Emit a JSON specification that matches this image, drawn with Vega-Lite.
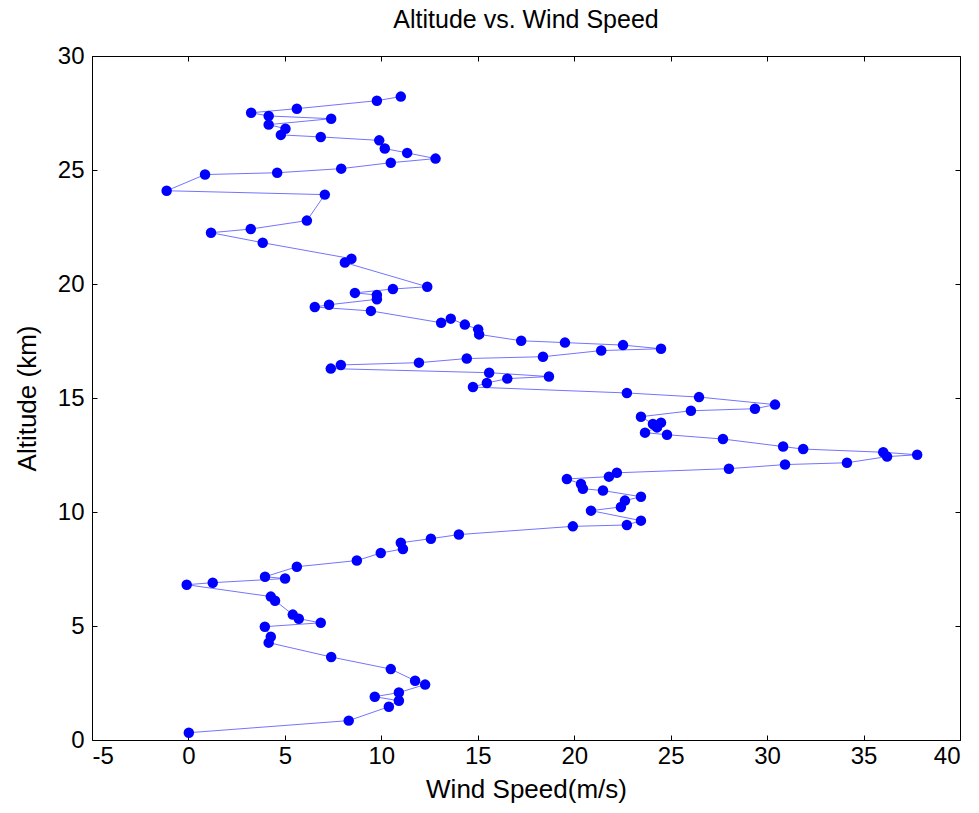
{
  "$schema": "https://vega.github.io/schema/vega-lite/v6.json",
  "width": 868,
  "height": 684,
  "autosize": {"type": "none"},
  "padding": {"left": 92, "top": 56, "right": 19, "bottom": 73},
  "background": "white",
  "title": {
    "text": "Altitude vs. Wind Speed",
    "font": "Liberation Sans",
    "fontSize": 25,
    "fontWeight": "normal",
    "color": "black",
    "anchor": "middle",
    "offset": 11
  },
  "config": {
    "view": {"stroke": null},
    "axis": {
      "grid": false,
      "domainColor": "black",
      "domainWidth": 1,
      "tickColor": "black",
      "tickSize": -5,
      "labelFont": "Liberation Sans",
      "labelFontSize": 24,
      "labelColor": "black",
      "labelExpr": "'' + datum.value",
      "titleFont": "Liberation Sans",
      "titleFontSize": 26,
      "titleFontWeight": "normal",
      "titleColor": "black"
    }
  },
  "data": {
    "values": [
      {"i": 1, "speed": 0.02, "alt": 0.32},
      {"i": 2, "speed": 8.31, "alt": 0.85},
      {"i": 3, "speed": 10.39, "alt": 1.46},
      {"i": 4, "speed": 10.91, "alt": 1.72},
      {"i": 5, "speed": 9.66, "alt": 1.90},
      {"i": 6, "speed": 10.91, "alt": 2.08},
      {"i": 7, "speed": 12.27, "alt": 2.43},
      {"i": 8, "speed": 11.75, "alt": 2.60},
      {"i": 9, "speed": 10.49, "alt": 3.11},
      {"i": 10, "speed": 7.40, "alt": 3.64},
      {"i": 11, "speed": 4.16, "alt": 4.27},
      {"i": 12, "speed": 4.27, "alt": 4.53},
      {"i": 13, "speed": 3.96, "alt": 4.97},
      {"i": 14, "speed": 6.86, "alt": 5.14},
      {"i": 15, "speed": 5.72, "alt": 5.32},
      {"i": 16, "speed": 5.41, "alt": 5.50},
      {"i": 17, "speed": 4.49, "alt": 6.11},
      {"i": 18, "speed": 4.27, "alt": 6.29},
      {"i": 19, "speed": -0.09, "alt": 6.81},
      {"i": 20, "speed": 1.26, "alt": 6.90},
      {"i": 21, "speed": 5.01, "alt": 7.08},
      {"i": 22, "speed": 3.97, "alt": 7.16},
      {"i": 23, "speed": 5.62, "alt": 7.60},
      {"i": 24, "speed": 8.73, "alt": 7.87},
      {"i": 25, "speed": 9.97, "alt": 8.20},
      {"i": 26, "speed": 11.12, "alt": 8.38},
      {"i": 27, "speed": 11.01, "alt": 8.65},
      {"i": 28, "speed": 12.57, "alt": 8.83},
      {"i": 29, "speed": 14.02, "alt": 9.01},
      {"i": 30, "speed": 19.93, "alt": 9.37},
      {"i": 31, "speed": 22.73, "alt": 9.43},
      {"i": 32, "speed": 23.46, "alt": 9.62},
      {"i": 33, "speed": 20.87, "alt": 10.06},
      {"i": 34, "speed": 22.42, "alt": 10.22},
      {"i": 35, "speed": 22.63, "alt": 10.50},
      {"i": 36, "speed": 23.46, "alt": 10.67},
      {"i": 37, "speed": 21.49, "alt": 10.94},
      {"i": 38, "speed": 20.45, "alt": 11.02},
      {"i": 39, "speed": 20.35, "alt": 11.23},
      {"i": 40, "speed": 19.62, "alt": 11.45},
      {"i": 41, "speed": 21.80, "alt": 11.55},
      {"i": 42, "speed": 22.21, "alt": 11.72},
      {"i": 43, "speed": 28.02, "alt": 11.90},
      {"i": 44, "speed": 30.93, "alt": 12.08},
      {"i": 45, "speed": 34.14, "alt": 12.16},
      {"i": 46, "speed": 36.22, "alt": 12.43},
      {"i": 47, "speed": 37.78, "alt": 12.51},
      {"i": 48, "speed": 36.02, "alt": 12.62},
      {"i": 49, "speed": 31.87, "alt": 12.76},
      {"i": 50, "speed": 30.83, "alt": 12.87},
      {"i": 51, "speed": 27.71, "alt": 13.20},
      {"i": 52, "speed": 24.81, "alt": 13.39},
      {"i": 53, "speed": 23.67, "alt": 13.48},
      {"i": 54, "speed": 24.29, "alt": 13.71},
      {"i": 55, "speed": 24.50, "alt": 13.92},
      {"i": 56, "speed": 24.08, "alt": 13.86},
      {"i": 57, "speed": 23.46, "alt": 14.18},
      {"i": 58, "speed": 26.05, "alt": 14.44},
      {"i": 59, "speed": 29.37, "alt": 14.53},
      {"i": 60, "speed": 30.41, "alt": 14.71},
      {"i": 61, "speed": 26.47, "alt": 15.04},
      {"i": 62, "speed": 22.73, "alt": 15.22},
      {"i": 63, "speed": 14.75, "alt": 15.48},
      {"i": 64, "speed": 15.47, "alt": 15.66},
      {"i": 65, "speed": 16.53, "alt": 15.85},
      {"i": 66, "speed": 18.69, "alt": 15.94},
      {"i": 67, "speed": 15.59, "alt": 16.11},
      {"i": 68, "speed": 7.38, "alt": 16.29},
      {"i": 69, "speed": 7.90, "alt": 16.45},
      {"i": 70, "speed": 11.95, "alt": 16.55},
      {"i": 71, "speed": 14.43, "alt": 16.73},
      {"i": 72, "speed": 18.38, "alt": 16.81},
      {"i": 73, "speed": 21.40, "alt": 17.08},
      {"i": 74, "speed": 24.50, "alt": 17.16},
      {"i": 75, "speed": 22.53, "alt": 17.32},
      {"i": 76, "speed": 19.52, "alt": 17.43},
      {"i": 77, "speed": 17.25, "alt": 17.51},
      {"i": 78, "speed": 15.07, "alt": 17.79},
      {"i": 79, "speed": 15.02, "alt": 18.01},
      {"i": 80, "speed": 14.33, "alt": 18.22},
      {"i": 81, "speed": 13.60, "alt": 18.48},
      {"i": 82, "speed": 13.10, "alt": 18.30},
      {"i": 83, "speed": 9.46, "alt": 18.82},
      {"i": 84, "speed": 6.55, "alt": 18.99},
      {"i": 85, "speed": 7.29, "alt": 19.09},
      {"i": 86, "speed": 9.77, "alt": 19.33},
      {"i": 87, "speed": 9.77, "alt": 19.52},
      {"i": 88, "speed": 8.63, "alt": 19.61},
      {"i": 89, "speed": 10.60, "alt": 19.78},
      {"i": 90, "speed": 12.38, "alt": 19.88},
      {"i": 91, "speed": 8.11, "alt": 20.94},
      {"i": 92, "speed": 8.45, "alt": 21.11},
      {"i": 93, "speed": 3.85, "alt": 21.81},
      {"i": 94, "speed": 1.17, "alt": 22.25},
      {"i": 95, "speed": 3.23, "alt": 22.41},
      {"i": 96, "speed": 6.14, "alt": 22.78},
      {"i": 97, "speed": 7.07, "alt": 23.92},
      {"i": 98, "speed": -1.13, "alt": 24.09},
      {"i": 99, "speed": 0.86, "alt": 24.80},
      {"i": 100, "speed": 4.60, "alt": 24.88},
      {"i": 101, "speed": 7.92, "alt": 25.06},
      {"i": 102, "speed": 10.49, "alt": 25.32},
      {"i": 103, "speed": 12.81, "alt": 25.50},
      {"i": 104, "speed": 11.34, "alt": 25.75},
      {"i": 105, "speed": 10.18, "alt": 25.94},
      {"i": 106, "speed": 9.89, "alt": 26.30},
      {"i": 107, "speed": 6.86, "alt": 26.45},
      {"i": 108, "speed": 4.79, "alt": 26.54},
      {"i": 109, "speed": 5.03, "alt": 26.81},
      {"i": 110, "speed": 4.16, "alt": 26.99},
      {"i": 111, "speed": 7.40, "alt": 27.25},
      {"i": 112, "speed": 4.16, "alt": 27.37},
      {"i": 113, "speed": 3.25, "alt": 27.51},
      {"i": 114, "speed": 5.62, "alt": 27.69},
      {"i": 115, "speed": 9.77, "alt": 28.04},
      {"i": 116, "speed": 11.01, "alt": 28.22}
    ]
  },
  "layer": [
    {
      "mark": {"type": "line", "color": "#0000ff", "strokeWidth": 1, "opacity": 0.55},
      "encoding": {
        "x": {
          "field": "speed", "type": "quantitative",
          "scale": {"domain": [-5, 40], "nice": false, "zero": false},
          "axis": {"orient": "bottom", "title": "Wind Speed(m/s)", "values": [-5, 0, 5, 10, 15, 20, 25, 30, 35, 40], "labelPadding": 9, "titlePadding": 8}
        },
        "y": {
          "field": "alt", "type": "quantitative",
          "scale": {"domain": [0, 30], "nice": false, "zero": false},
          "axis": {"orient": "left", "title": "Altitude (km)", "values": [0, 5, 10, 15, 20, 25, 30], "labelPadding": 13, "titlePadding": 17}
        },
        "order": {"field": "i", "type": "quantitative"}
      }
    },
    {
      "mark": {"type": "point", "shape": "circle", "filled": true, "color": "#0000ff", "opacity": 1, "size": 110},
      "encoding": {
        "x": {
          "field": "speed", "type": "quantitative",
          "axis": {"orient": "top", "title": null, "labels": false, "values": [-5, 0, 5, 10, 15, 20, 25, 30, 35, 40]}
        },
        "y": {
          "field": "alt", "type": "quantitative",
          "axis": {"orient": "right", "title": null, "labels": false, "values": [0, 5, 10, 15, 20, 25, 30]}
        }
      }
    }
  ],
  "resolve": {"axis": {"x": "independent", "y": "independent"}}
}
